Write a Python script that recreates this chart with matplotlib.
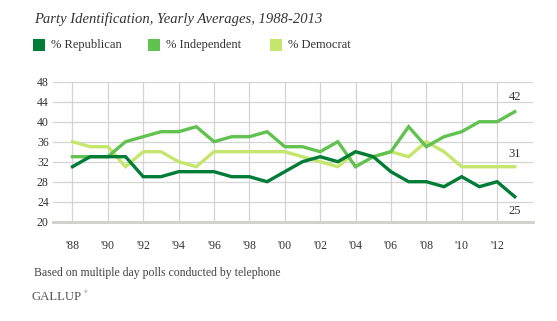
import matplotlib
matplotlib.use("Agg")
import matplotlib.pyplot as plt
from matplotlib.patches import Rectangle

years = list(range(1988, 2014))
republican = [31, 33, 33, 33, 29, 29, 30, 30, 30, 29, 29, 28, 30, 32, 33, 32, 34, 33, 30, 28, 28, 27, 29, 27, 28, 25]
independent = [33, 33, 33, 36, 37, 38, 38, 39, 36, 37, 37, 38, 35, 35, 34, 36, 31, 33, 34, 39, 35, 37, 38, 40, 40, 42]
democrat = [36, 35, 35, 31, 34, 34, 32, 31, 34, 34, 34, 34, 34, 33, 32, 31, 34, 33, 34, 33, 36, 34, 31, 31, 31, 31]
tick_years = list(range(1988, 2013, 2))
tick_labels = ["'88", "'90", "'92", "'94", "'96", "'98", "'00", "'02", "'04", "'06", "'08", "'10", "'12"]
y_ticks = [20, 24, 28, 32, 36, 40, 44, 48]
series_names = ["% Republican", "% Independent", "% Democrat"]

c_rep = "#007C36"
c_ind = "#62C250"
c_dem = "#C5E66C"
serif = ["Liberation Serif", "DejaVu Serif"]
txt = "#333333"

W, H = 557, 321
fig = plt.figure(figsize=(W / 100, H / 100), dpi=100)
ax = fig.add_axes([53 / W, 1 - 221.7 / H, (533 - 53) / W, (221.7 - 81.7) / H])
ax.set_xlim(1986.9, 2014.03)
ax.set_ylim(20, 48)

for yv in y_ticks[1:]:
    ax.axhline(yv, color="#d4d4d4", lw=0.9, zorder=1)
for xv in tick_years:
    ax.axvline(xv, color="#d4d4d4", lw=0.9, zorder=1)
ax.axhline(20, color="#cfcfca", lw=2.0, zorder=1, clip_on=False)

ax.plot(years, democrat, color=c_dem, lw=2.4, zorder=3, solid_joinstyle="miter")
ax.plot(years, independent, color=c_ind, lw=2.4, zorder=4, solid_joinstyle="miter")
ax.plot(years, republican, color=c_rep, lw=2.4, zorder=5, solid_joinstyle="miter")

for s in ax.spines.values():
    s.set_visible(False)
ax.set_yticks(y_ticks)
ax.set_yticklabels([str(v) for v in y_ticks], fontfamily=serif, fontsize=8.5, color=txt)
ax.set_xticks(tick_years)
ax.set_xticklabels(tick_labels, fontfamily=serif, fontsize=8.5, color=txt)
ax.tick_params(axis="both", length=0)
ax.tick_params(axis="y", pad=3)
ax.tick_params(axis="x", pad=13)

ax.annotate(str(independent[-1]), (years[-1], independent[-1]), xytext=(0, 6), textcoords="offset points",
            ha="center", va="bottom", fontfamily=serif, fontsize=9, color=txt)
ax.annotate(str(democrat[-1]), (years[-1], democrat[-1]), xytext=(0, 5), textcoords="offset points",
            ha="center", va="bottom", fontfamily=serif, fontsize=9, color=txt)
ax.annotate(str(republican[-1]), (years[-1], republican[-1]), xytext=(0, -6), textcoords="offset points",
            ha="center", va="top", fontfamily=serif, fontsize=9, color=txt)

fig.text(34 / W, 1 - 23 / H, "Party Identification, Yearly Averages, 1988-2013", fontfamily=serif,
         style="italic", fontsize=10.5, color=txt, ha="left", va="baseline")

legend_x = [33, 148, 270]
for name, col, lx in zip(series_names, [c_rep, c_ind, c_dem], legend_x):
    fig.patches.append(Rectangle((lx / W, 1 - 51 / H), 12 / W, 12 / H, transform=fig.transFigure,
                                 facecolor=col, edgecolor="none"))
    fig.text((lx + 18) / W, 1 - 45 / H, name, fontfamily=serif, fontsize=9, color=txt, ha="left", va="center")

fig.text(34 / W, 1 - 276 / H, "Based on multiple day polls conducted by telephone", fontfamily=serif,
         fontsize=8.5, color="#444444", ha="left", va="baseline")
fig.text(31 / W, 1 - 300 / H, "GALLUP", fontfamily=serif, fontsize=9.2, color="#555555", ha="left", va="baseline")
fig.text(84 / W, 1 - 293 / H, "®", fontfamily=serif, fontsize=3.5, color="#555555", ha="left", va="baseline")

fig.savefig("out.png", dpi=100, facecolor="white")
